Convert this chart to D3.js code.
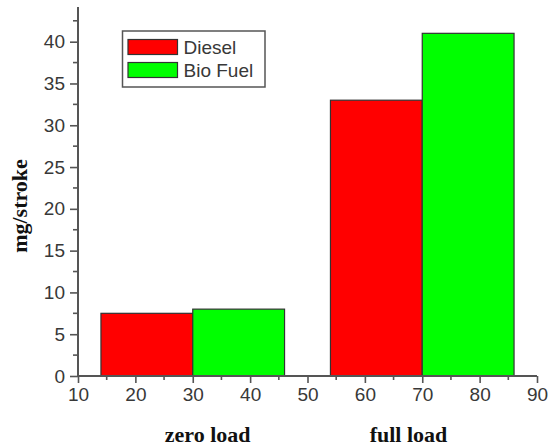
<!DOCTYPE html>
<html>
<head>
<meta charset="utf-8">
<script src="https://cdn.jsdelivr.net/npm/d3@7"></script>
<style>
  html, body { margin: 0; padding: 0; background: #fff; }
  svg { display: block; }
</style>
</head>
<body>
<script>
// Emission per stroke, diesel vs bio fuel, at two engine loads
const categories = ["zero load", "full load"];
const seriesNames = ["Diesel", "Bio Fuel"];
const dieselValues = [7.5, 33];
const bioFuelValues = [8, 41];
const groupCenters = [30, 70];      // x position of each load group
const barSpan = 16;                 // bar width in x-axis units
const xTickValues = [10, 20, 30, 40, 50, 60, 70, 80, 90];
const yTickValues = [0, 5, 10, 15, 20, 25, 30, 35, 40];
const seriesColors = ["#ff0000", "#00ff00"];

const W = 556, H = 445;
const svg = d3.select("body").append("svg").attr("width", W).attr("height", H);

const x = d3.scaleLinear().domain([10, 90]).range([78, 537]);
const y = d3.scaleLinear().domain([0, 44.15]).range([376, 7]);

const axisColor = "#555";
const textColor = "#383838";

// bars
const seriesValues = [dieselValues, bioFuelValues];
seriesValues.forEach((vals, si) => {
  svg.append("g").selectAll("rect")
    .data(vals)
    .join("rect")
    .attr("x", (d, i) => x(groupCenters[i] - barSpan + si * barSpan))
    .attr("width", x(barSpan + 10) - x(10))
    .attr("y", d => y(d))
    .attr("height", d => y(0) - y(d))
    .attr("fill", seriesColors[si])
    .attr("stroke", "#333")
    .attr("stroke-width", 1.2);
});

// y axis
const yAxis = d3.axisLeft(y).tickValues(yTickValues).tickSize(8).tickPadding(5).tickSizeOuter(0);
const gy = svg.append("g").attr("transform", `translate(${x(10)},0)`).call(yAxis);
gy.select(".domain").remove();
gy.append("line").attr("x1", 0).attr("x2", 0).attr("y1", y(0)).attr("y2", y.range()[1])
  .attr("stroke", axisColor).attr("stroke-width", 2);
const yMinor = d3.range(2.5, 44, 5);
gy.selectAll(".minor").data(yMinor).join("line").attr("class", "minor")
  .attr("x1", -5).attr("x2", 0).attr("y1", d => y(d)).attr("y2", d => y(d))
  .attr("stroke", axisColor).attr("stroke-width", 1.6);
gy.selectAll(".tick line").attr("stroke", axisColor).attr("stroke-width", 1.6);
gy.selectAll(".tick text").attr("fill", textColor)
  .style("font-family", "'Liberation Sans', Arial, sans-serif").style("font-size", "19px");

// x axis
const xAxis = d3.axisBottom(x).tickValues(xTickValues).tickSize(7).tickPadding(5).tickSizeOuter(0);
const gx = svg.append("g").attr("transform", `translate(0,${y(0)})`).call(xAxis);
gx.select(".domain").remove();
gx.append("line").attr("x1", x(10)).attr("x2", x(90)).attr("y1", 0).attr("y2", 0)
  .attr("stroke", axisColor).attr("stroke-width", 2);
const xMinor = d3.range(15, 90, 10);
gx.selectAll(".minor").data(xMinor).join("line").attr("class", "minor")
  .attr("x1", d => x(d)).attr("x2", d => x(d)).attr("y1", 0).attr("y2", 4)
  .attr("stroke", axisColor).attr("stroke-width", 1.6);
gx.selectAll(".tick line").attr("stroke", axisColor).attr("stroke-width", 1.6);
gx.selectAll(".tick text").attr("fill", textColor)
  .style("font-family", "'Liberation Sans', Arial, sans-serif").style("font-size", "19px");

// y axis title
svg.append("text")
  .attr("transform", `translate(27,206) rotate(-90)`)
  .attr("text-anchor", "middle")
  .style("font-family", "'Liberation Serif', 'Times New Roman', serif")
  .style("font-weight", "bold").style("font-size", "22px")
  .attr("fill", "#111")
  .text("mg/stroke");

// load category labels
const labelOffsets = [2.6, -2.4];
svg.append("g").selectAll("text")
  .data(categories)
  .join("text")
  .attr("x", (d, i) => x(groupCenters[i] + labelOffsets[i]))
  .attr("y", 441.5)
  .attr("text-anchor", "middle")
  .style("font-family", "'Liberation Serif', 'Times New Roman', serif")
  .style("font-weight", "bold").style("font-size", "22px")
  .attr("fill", "#111")
  .text(d => d);

// legend
const legend = svg.append("g").attr("transform", "translate(122.5,31)");
legend.append("rect").attr("width", 142.5).attr("height", 56)
  .attr("fill", "#fff").attr("stroke", "#555").attr("stroke-width", 1.5);
seriesNames.forEach((name, i) => {
  const row = legend.append("g").attr("transform", `translate(0,${8.5 + i * 23})`);
  row.append("rect").attr("x", 5.5).attr("y", 0).attr("width", 49.5).attr("height", 15)
    .attr("fill", seriesColors[i]).attr("stroke", "#333").attr("stroke-width", 1.2);
  row.append("text").attr("x", 61).attr("y", 14)
    .style("font-family", "'Liberation Sans', Arial, sans-serif").style("font-size", "19px")
    .attr("fill", textColor)
    .text(name);
});
</script>
</body>
</html>
